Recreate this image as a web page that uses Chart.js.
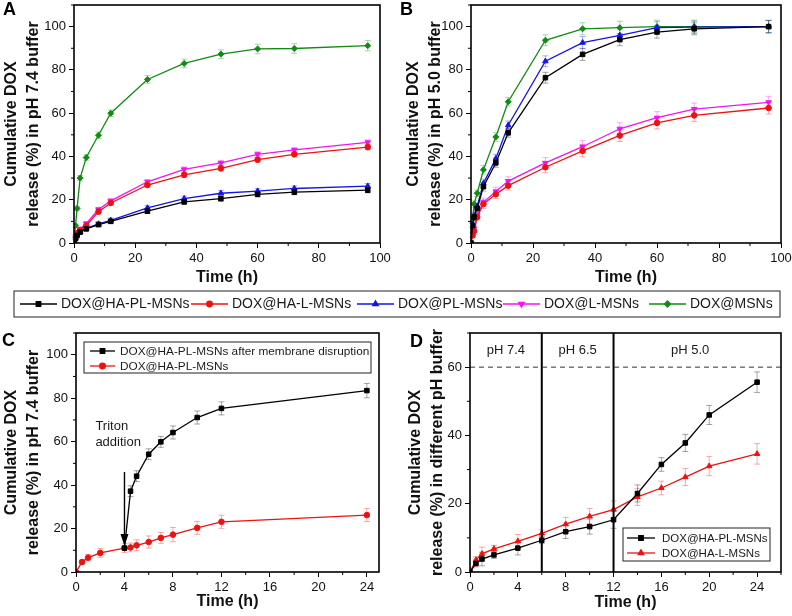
<!DOCTYPE html>
<html lang="en">
<head>
<meta charset="UTF-8">
<title>DOX release profiles</title>
<script src="https://cdn.jsdelivr.net/npm/chart.js@4.4.1/dist/chart.umd.min.js"></script>
<style>
  body { margin: 0; background: #fff; }
  #wrap { position: relative; width: 792px; height: 616px; }
  canvas { position: absolute; }
</style>
</head>
<body>
<div id="wrap">
  <canvas id="chartA" width="392" height="289" style="left:0;top:0"></canvas>
  <canvas id="chartB" width="394" height="289" style="left:398px;top:0"></canvas>
  <canvas id="legendMain" width="792" height="36" style="left:0;top:284px"></canvas>
  <canvas id="chartC" width="392" height="295" style="left:0;top:318px"></canvas>
  <canvas id="chartD" width="388" height="296" style="left:404px;top:318px"></canvas>
</div>
<script>
// ---- data ----
const seriesNames = ['DOX@HA-PL-MSNs', 'DOX@HA-L-MSNs', 'DOX@PL-MSNs', 'DOX@L-MSNs', 'DOX@MSNs'];
const timesAB = [0, 0.5, 1, 2, 4, 8, 12, 24, 36, 48, 60, 72, 96];

// A: pH 7.4
const aHAPL = [0, 2, 3.5, 5, 6.5, 8.5, 10, 14.7, 19, 20.5, 22.5, 23.5, 24.4];
const aHAL  = [0, 3, 4.5, 6, 8, 14.5, 18.5, 26.8, 31.5, 34.5, 38.5, 41, 44.3];
const aPL   = [0, 2.5, 4, 5.2, 6.8, 8.8, 10.5, 16.2, 20.5, 23, 24, 25.2, 26.3];
const aL    = [0, 3.5, 5, 6.5, 9, 15.5, 19.5, 28.3, 34, 37, 41, 43, 46.5];
const aMSN  = [0, 8, 16, 30, 39.5, 49.8, 60, 75.6, 83, 87.3, 89.7, 89.9, 91.2];
const aErrSmall = [0, 0.5, 0.6, 0.6, 0.8, 1, 1, 1, 1.2, 1.2, 1.2, 1.2, 1.2];
const aErrMSN   = [0, 0.8, 1, 1.2, 1.3, 1.5, 1.5, 1.8, 2, 2, 2.2, 2.2, 2.4];

// B: pH 5.0
const bHAPL = [0, 8, 12, 16, 26, 37, 50.9, 76.4, 87.2, 94, 97.5, 99, 100];
const bHAL  = [0, 3.5, 5.5, 12, 18, 22.5, 26.5, 35, 42.6, 49.7, 55.5, 59, 62.4];
const bPL   = [0, 8.5, 12.5, 17, 27.5, 39, 54.4, 84, 92.6, 96, 99.5, 99.8, 100];
const bL    = [0, 4, 6.7, 13, 18.8, 23.8, 28.6, 37, 44.5, 52.8, 57.9, 61.9, 65];
const bMSN  = [0, 10.8, 18, 23, 33.8, 49, 65.3, 93.7, 99, 99.5, 100, 100, 100];
const bErrMSN   = [0, 1, 1.5, 1.5, 2, 2, 2, 2.5, 2.8, 3, 3, 3, 3];
const bErrOther = [0, 1, 1.5, 1.5, 2, 2, 2, 2.5, 2.8, 2.8, 2.8, 2.8, 2.8];

// C: pH 7.4, membrane disruption
const cTimes = [0, 0.5, 1, 2, 4, 4.5, 5, 6, 7, 8, 10, 12, 24];
const cIntact = [0, 4.6, 6.6, 8.8, 11, 11.3, 12.3, 13.8, 15.7, 17.2, 20.3, 23.1, 26.2];
const cIntactErr = [0, 1, 1.5, 2, 2, 2, 2.5, 2.8, 2.5, 3.3, 3, 3, 3];
const cDisruptTimes = [4, 4.5, 5, 6, 7, 8, 10, 12, 24];
const cDisrupt = [11, 37.2, 44.1, 54.2, 59.9, 64.2, 71.1, 75.3, 83.5];
const cDisruptErr = [0, 2.5, 2.5, 2.5, 2.5, 3, 3, 3, 3.3];
const tritonTime = 4;

// D: stepwise pH
const dTimes = [0, 0.5, 1, 2, 4, 6, 8, 10, 12, 14, 16, 18, 20, 24];
const dHAPL = [0, 2.5, 3.8, 5, 7, 9.3, 11.8, 13.3, 15.3, 23, 31.5, 37.8, 46, 55.6];
const dHAL  = [0, 3.5, 5.3, 6.8, 9, 11.3, 14, 16.3, 18.3, 22, 24.6, 27.8, 31, 34.6];
const dHAPLErr = [0, 1, 2, 1, 2, 1, 2, 2.2, 2.5, 2.5, 2, 2.5, 2.8, 3];
const dHALErr  = [0, 1, 2, 1, 2, 1, 2, 2.3, 2.5, 2.5, 2, 2.5, 2.8, 3];
const phSwitchTimes = [6, 12];
const phLabels = ['pH 7.4', 'pH 6.5', 'pH 5.0'];
const loadingLevel = 60;

// ---- styles ----
const FONT = '"Liberation Sans", Arial, sans-serif';
const styles = {
  black:   { color: '#000000', err: 'rgba(0,0,0,0.35)', pointStyle: 'rect', radius: 3.2 },
  red:     { color: '#ee1111', err: 'rgba(238,17,17,0.35)', pointStyle: 'circle', radius: 2.8 },
  blue:    { color: '#1414e6', err: 'rgba(20,20,230,0.35)', pointStyle: 'triangle', radius: 3.2 },
  magenta: { color: '#f015f0', err: 'rgba(240,21,240,0.35)', pointStyle: 'triangle', radius: 3.2, rotation: 180 },
  green:   { color: '#138a13', err: 'rgba(19,138,19,0.35)', pointStyle: 'rectRot', radius: 3 }
};
const lineOrder = [styles.black, styles.red, styles.blue, styles.magenta, styles.green];

function makeSet(label, times, values, errors, st) {
  return {
    label: label,
    data: times.map((t, i) => ({ x: t, y: values[i] })),
    errors: errors,
    errorColor: st.err,
    borderColor: st.color,
    backgroundColor: st.color,
    pointStyle: st.pointStyle,
    pointRotation: st.rotation || 0,
    pointRadius: st.radius,
    pointBorderWidth: 1,
    borderWidth: 1.3,
    tension: 0
  };
}

// ---- plugins ----
const errorBars = {
  id: 'errorBars',
  beforeDatasetsDraw(chart) {
    const ctx = chart.ctx, ys = chart.scales.y;
    chart.data.datasets.forEach((ds, di) => {
      if (!ds.errors) return;
      const meta = chart.getDatasetMeta(di);
      ctx.save();
      ctx.strokeStyle = ds.errorColor;
      ctx.lineWidth = 1;
      meta.data.forEach((pt, i) => {
        const e = ds.errors[i];
        if (!e) return;
        const v = ds.data[i].y;
        const t = ys.getPixelForValue(v + e), b = ys.getPixelForValue(v - e);
        ctx.beginPath();
        ctx.moveTo(pt.x, t); ctx.lineTo(pt.x, b);
        ctx.moveTo(pt.x - 3, t); ctx.lineTo(pt.x + 3, t);
        ctx.moveTo(pt.x - 3, b); ctx.lineTo(pt.x + 3, b);
        ctx.stroke();
      });
      ctx.restore();
    });
  }
};

const frameAndMinor = {
  id: 'frameAndMinor',
  afterDraw(chart, args, opts) {
    const ctx = chart.ctx, a = chart.chartArea;
    const xs = chart.scales.x, ys = chart.scales.y;
    if (!xs || !xs.options.display) return;
    ctx.save();
    ctx.strokeStyle = '#000';
    ctx.lineWidth = 1;
    ctx.beginPath();
    for (let v = xs.min; v <= xs.max + 1e-9; v += opts.x) {
      if (Math.abs(v / xs.options.ticks.stepSize - Math.round(v / xs.options.ticks.stepSize)) < 1e-6) continue;
      const px = xs.getPixelForValue(v);
      ctx.moveTo(px, a.bottom); ctx.lineTo(px, a.bottom + 3);
    }
    for (let v = ys.min; v <= ys.max + 1e-9; v += opts.y) {
      if (Math.abs(v / ys.options.ticks.stepSize - Math.round(v / ys.options.ticks.stepSize)) < 1e-6) continue;
      const py = ys.getPixelForValue(v);
      ctx.moveTo(a.left, py); ctx.lineTo(a.left - 3, py);
    }
    ctx.stroke();
    ctx.lineWidth = 1.6;
    ctx.strokeRect(a.left, a.top, a.right - a.left, a.bottom - a.top);
    ctx.restore();
  }
};

const panelTag = {
  id: 'panelTag',
  afterDraw(chart, args, opts) {
    if (!opts.text) return;
    const ctx = chart.ctx;
    ctx.save();
    ctx.font = 'bold 18px ' + FONT;
    ctx.fillStyle = '#000';
    ctx.textBaseline = 'top';
    ctx.fillText(opts.text, opts.x, opts.y);
    ctx.restore();
  }
};

const boxLegend = {
  id: 'boxLegend',
  afterDraw(chart, args, opts) {
    if (!opts.box) return;
    const ctx = chart.ctx, b = opts.box;
    ctx.save();
    ctx.strokeStyle = '#222';
    ctx.lineWidth = 1;
    ctx.strokeRect(b.x, b.y, b.w, b.h);
    ctx.font = opts.fontSize + 'px ' + FONT;
    ctx.textBaseline = 'middle';
    chart.data.datasets.forEach((ds, i) => {
      let lx, ly;
      if (opts.offsets) { lx = b.x + opts.offsets[i]; ly = b.y + b.h / 2; }
      else { lx = b.x + opts.inset; ly = b.y + opts.rowStart + i * opts.rowGap; }
      ctx.strokeStyle = ds.borderColor;
      ctx.fillStyle = ds.backgroundColor;
      ctx.lineWidth = 1.3;
      ctx.beginPath(); ctx.moveTo(lx, ly); ctx.lineTo(lx + opts.lineLen, ly); ctx.stroke();
      Chart.helpers.drawPoint(ctx, { pointStyle: ds.pointStyle, rotation: ds.pointRotation, radius: ds.pointRadius, borderWidth: 1 }, lx + opts.lineLen / 2, ly);
      ctx.fillStyle = '#1a1a1a';
      ctx.fillText(ds.label, lx + opts.lineLen + opts.gap, ly + 0.5);
    });
    ctx.restore();
  }
};

const tritonNote = {
  id: 'tritonNote',
  afterDatasetsDraw(chart, args, opts) {
    if (!opts.label) return;
    const ctx = chart.ctx, xs = chart.scales.x, ys = chart.scales.y;
    const px = xs.getPixelForValue(opts.at);
    const top = ys.getPixelForValue(opts.from), tip = ys.getPixelForValue(opts.to);
    ctx.save();
    ctx.strokeStyle = '#000'; ctx.fillStyle = '#000'; ctx.lineWidth = 1.4;
    ctx.beginPath(); ctx.moveTo(px, top); ctx.lineTo(px, tip - 10); ctx.stroke();
    ctx.beginPath(); ctx.moveTo(px - 4, tip - 12); ctx.lineTo(px + 4, tip - 12); ctx.lineTo(px, tip); ctx.closePath(); ctx.fill();
    ctx.font = '13px ' + FONT;
    ctx.fillStyle = '#1a1a1a';
    ctx.textBaseline = 'middle';
    const lx = xs.getPixelForValue(opts.textX);
    opts.label.forEach((t, i) => ctx.fillText(t, lx, ys.getPixelForValue(opts.textY) + i * 16));
    ctx.restore();
  }
};

const phZones = {
  id: 'phZones',
  afterDatasetsDraw(chart, args, opts) {
    if (!opts.switches) return;
    const ctx = chart.ctx, xs = chart.scales.x, ys = chart.scales.y, a = chart.chartArea;
    ctx.save();
    ctx.strokeStyle = '#000'; ctx.lineWidth = 2;
    opts.switches.forEach(t => {
      const px = xs.getPixelForValue(t);
      ctx.beginPath(); ctx.moveTo(px, a.top); ctx.lineTo(px, a.bottom); ctx.stroke();
    });
    ctx.lineWidth = 1; ctx.strokeStyle = '#333'; ctx.setLineDash([5, 4]);
    const py = ys.getPixelForValue(opts.level);
    ctx.beginPath(); ctx.moveTo(a.left, py); ctx.lineTo(a.right, py); ctx.stroke();
    ctx.setLineDash([]);
    ctx.font = '13px ' + FONT; ctx.fillStyle = '#1a1a1a';
    ctx.textAlign = 'center'; ctx.textBaseline = 'middle';
    opts.labels.forEach((t, i) => ctx.fillText(t, xs.getPixelForValue(opts.labelX[i]), ys.getPixelForValue(opts.labelY)));
    ctx.restore();
  }
};

Chart.register(errorBars, frameAndMinor, panelTag, boxLegend, tritonNote, phZones);

// ---- panel options ----
const tickFont = { family: FONT, size: 13 };
const titleFont = { family: FONT, size: 16, weight: 'bold', lineHeight: 1.375 };

function panelOptions(p) {
  return {
    responsive: false,
    animation: false,
    events: [],
    layout: { padding: p.pad },
    plugins: Object.assign({
      legend: { display: false },
      tooltip: { enabled: false },
      panelTag: { text: p.tag, x: p.tagX, y: p.tagY },
      frameAndMinor: { x: p.xMinor, y: p.yMinor }
    }, p.extra || {}),
    scales: {
      x: {
        type: 'linear', min: 0, max: p.xMax,
        ticks: { stepSize: p.xStep, includeBounds: false, autoSkip: false, maxRotation: 0, padding: 3, color: '#111', font: tickFont },
        grid: { drawOnChartArea: false, tickLength: 5, color: '#000' },
        border: { display: false },
        title: { display: true, text: 'Time (h)', color: '#111', font: titleFont, padding: 0 },
        afterFit(s) { s.height = p.xH; s.paddingLeft = 0; s.paddingRight = 0; }
      },
      y: {
        type: 'linear', min: 0, max: p.yMax,
        ticks: { stepSize: p.yStep, includeBounds: false, autoSkip: false, padding: 3, color: '#111', font: tickFont },
        grid: { drawOnChartArea: false, tickLength: 5, color: '#000' },
        border: { display: false },
        title: { display: true, text: p.yTitle, color: '#111', font: titleFont, padding: { top: 1, bottom: 0 } },
        afterFit(s) { s.width = p.yW; s.paddingTop = 0; s.paddingBottom = 0; }
      }
    }
  };
}

function fiveSets(times, vals, errs) {
  return seriesNames.map((n, i) => makeSet(n, times, vals[i], errs[i], lineOrder[i]));
}

new Chart(document.getElementById('chartA'), {
  type: 'line',
  data: { datasets: fiveSets(timesAB, [aHAPL, aHAL, aPL, aL, aMSN], [aErrSmall, aErrSmall, aErrSmall, aErrSmall, aErrMSN]) },
  options: panelOptions({
    pad: { top: 2, right: 12, left: 0, bottom: 0 }, yW: 74, xH: 46,
    xMax: 100, xStep: 20, xMinor: 10, yMax: 110, yStep: 20, yMinor: 10,
    yTitle: ['Cumulative DOX', 'release (%) in pH 7.4 buffer'],
    tag: 'A', tagX: 3, tagY: 1
  })
});

new Chart(document.getElementById('chartB'), {
  type: 'line',
  data: { datasets: fiveSets(timesAB, [bHAPL, bHAL, bPL, bL, bMSN], [bErrOther, bErrOther, bErrOther, bErrOther, bErrMSN]) },
  options: panelOptions({
    pad: { top: 2, right: 11, left: 4, bottom: 0 }, yW: 69, xH: 46,
    xMax: 100, xStep: 20, xMinor: 10, yMax: 110, yStep: 20, yMinor: 10,
    yTitle: ['Cumulative DOX', 'release (%) in pH 5.0 buffer'],
    tag: 'B', tagX: 2, tagY: 1
  })
});

new Chart(document.getElementById('legendMain'), {
  type: 'line',
  data: { datasets: seriesNames.map((n, i) => makeSet(n, [], [], null, lineOrder[i])) },
  options: {
    responsive: false, animation: false, events: [],
    scales: { x: { display: false }, y: { display: false } },
    plugins: {
      legend: { display: false }, tooltip: { enabled: false },
      boxLegend: { box: { x: 14, y: 7, w: 766, h: 26 }, offsets: [6, 177, 343, 489, 635], lineLen: 37, gap: 4, fontSize: 14 }
    }
  }
});

new Chart(document.getElementById('chartC'), {
  type: 'line',
  data: { datasets: [
    makeSet('DOX@HA-PL-MSNs after membrane disruption', cDisruptTimes, cDisrupt, cDisruptErr, styles.black),
    makeSet('DOX@HA-PL-MSNs', cTimes, cIntact, cIntactErr, styles.red)
  ] },
  options: panelOptions({
    pad: { top: 15, right: 13, left: 0, bottom: 0 }, yW: 76, xH: 41,
    xMax: 25, xStep: 4, xMinor: 2, yMax: 110, yStep: 20, yMinor: 10,
    yTitle: ['Cumulative DOX', 'release (%) in pH 7.4 buffer'],
    tag: 'C', tagX: 2, tagY: 14,
    extra: {
      boxLegend: { box: { x: 84, y: 24, w: 287, h: 31 }, inset: 6, rowStart: 9, rowGap: 15, lineLen: 25, gap: 5, fontSize: 11.8 },
      tritonNote: { at: tritonTime, from: 46, to: 12, label: ['Triton', 'addition'], textX: 1.6, textY: 67 }
    }
  })
});

new Chart(document.getElementById('chartD'), {
  type: 'line',
  data: { datasets: [
    makeSet('DOX@HA-PL-MSNs', dTimes, dHAPL, dHAPLErr, styles.black),
    makeSet('DOX@HA-L-MSNs', dTimes, dHAL, dHALErr, Object.assign({}, styles.red, { pointStyle: 'triangle', radius: 3.2 }))
  ] },
  options: panelOptions({
    pad: { top: 15, right: 11, left: 0, bottom: 0 }, yW: 66, xH: 42,
    xMax: 26, xStep: 4, xMinor: 2, yMax: 70, yStep: 20, yMinor: 10,
    yTitle: ['Cumulative DOX', 'release (%) in different pH buffer'],
    tag: 'D', tagX: 6, tagY: 15,
    extra: {
      boxLegend: { box: { x: 219, y: 210, w: 147, h: 33 }, inset: 4, rowStart: 10, rowGap: 15, lineLen: 28, gap: 7, fontSize: 11.5 },
      phZones: { switches: phSwitchTimes, level: loadingLevel, labels: phLabels, labelX: [3, 9, 18.4], labelY: 65 }
    }
  })
});
</script>
</body>
</html>
